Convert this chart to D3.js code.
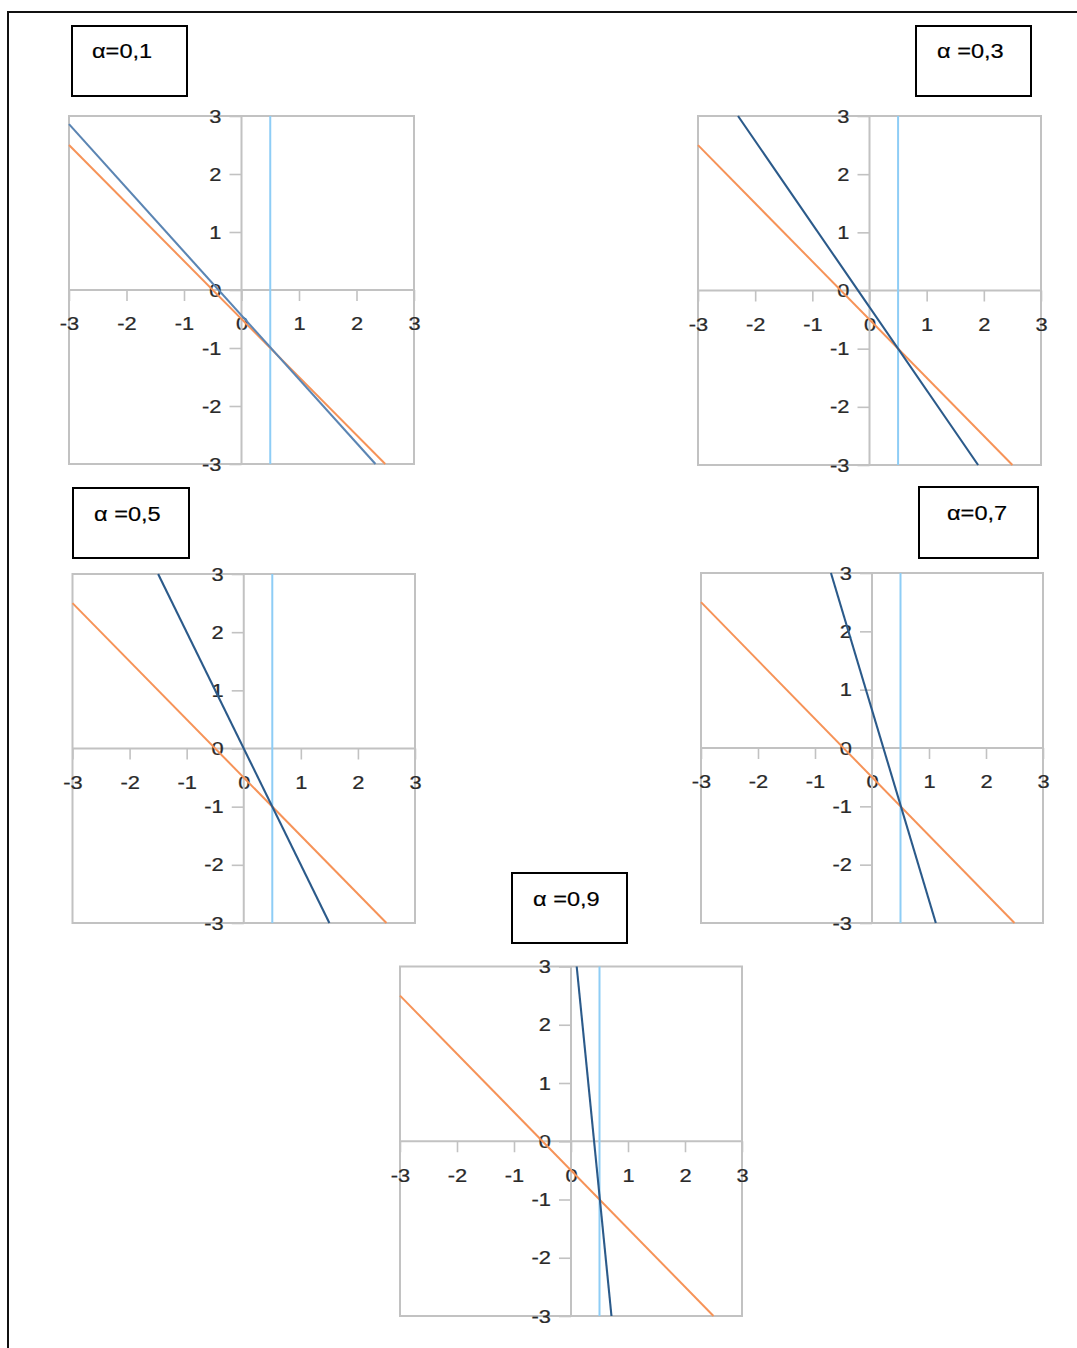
<!DOCTYPE html>
<html>
<head>
<meta charset="utf-8">
<script src="https://cdn.jsdelivr.net/npm/d3@7"></script>
<style>
  html, body { margin: 0; padding: 0; background: #fff; }
  svg { display: block; }
  text { font-family: "Liberation Sans", Arial, sans-serif; }
</style>
</head>
<body>
<svg id="chart" width="1077" height="1348"></svg>
<script>
// ---- data ----------------------------------------------------------------
const titles = ["α=0,1", "α =0,3", "α =0,5", "α=0,7", "α =0,9"];
const xTicks = [-3, -2, -1, 0, 1, 2, 3];
const yTicks = [-3, -2, -1, 0, 1, 2, 3];
const domain = [-3, 3];

// orange reference line, identical in every panel
const orangeLine = [[-3, 2.5], [2.5, -3]];
// light-blue vertical guide
const guideLine = [[0.5, -3], [0.5, 3]];
// dark-blue line, one per α, crossing the orange line at (0.5, -1)
const blueLines = [
  [[-3, 2.86], [2.33, -3]],
  [[-2.3, 3], [1.9, -3]],
  [[-1.5, 3], [1.5, -3]],
  [[-0.72, 3], [1.12, -3]],
  [[0.1, 3], [0.71, -3]]
];

// ---- layout --------------------------------------------------------------
// plot: [left, top, right, bottom]; box: [left, top, right, bottom]
const layout = [
  { plot: [69, 116, 414, 464],    box: [72, 26, 187, 96],    textX: 92,  baseline: 58 },
  { plot: [698, 116, 1041, 465],  box: [916, 26, 1031, 96],  textX: 937, baseline: 58 },
  { plot: [72.5, 574, 415, 923],  box: [73, 488, 189, 558],  textX: 94,  baseline: 521 },
  { plot: [701, 573, 1043, 923],  box: [919, 487, 1038, 558], textX: 947, baseline: 520 },
  { plot: [400, 966.5, 742, 1316], box: [512, 873, 627, 943], textX: 533, baseline: 906 }
];
const blueColors = ["#5b85b3", "#2b5a8a", "#2b5a8a", "#2b5a8a", "#2b5a8a"];
const grey = "#c2c2c2";
const textScale = 1.15;

const svg = d3.select("#chart");

// outer frame running off the page on the right and bottom
svg.append("rect")
  .attr("x", 8).attr("y", 12)
  .attr("width", 1200).attr("height", 1400)
  .attr("fill", "none").attr("stroke", "#111").attr("stroke-width", 2);

layout.forEach((L, i) => {
  const [pl, pt, pr, pb] = L.plot;
  const x = d3.scaleLinear().domain(domain).range([pl, pr]);
  const y = d3.scaleLinear().domain(domain).range([pb, pt]);
  const g = svg.append("g");

  // title box
  const [bl, bt, br, bb] = L.box;
  g.append("rect")
    .attr("x", bl).attr("y", bt)
    .attr("width", br - bl).attr("height", bb - bt)
    .attr("fill", "#fff").attr("stroke", "#000").attr("stroke-width", 2);
  g.append("text")
    .attr("transform", `translate(${L.textX},${L.baseline}) scale(${textScale},1)`)
    .attr("font-size", 20.5).attr("fill", "#000")
    .attr("stroke", "#000").attr("stroke-width", 0.2)
    .text(titles[i]);

  // plot frame
  g.append("rect")
    .attr("x", pl).attr("y", pt)
    .attr("width", pr - pl).attr("height", pb - pt)
    .attr("fill", "#fff").attr("stroke", grey).attr("stroke-width", 2);

  // x axis through y = 0
  const xAxis = d3.axisBottom(x)
    .tickValues(xTicks)
    .tickSize(11)
    .tickSizeOuter(0)
    .tickPadding(16)
    .tickFormat(d => String(d));
  const gx = g.append("g")
    .attr("transform", `translate(0,${y(0)})`)
    .call(xAxis);

  // y axis through x = 0
  const yAxis = d3.axisLeft(y)
    .tickValues(yTicks)
    .tickSize(12)
    .tickSizeOuter(0)
    .tickPadding(8)
    .tickFormat(d => String(d));
  const gy = g.append("g")
    .attr("transform", `translate(${x(0)},0)`)
    .call(yAxis);

  [gx, gy].forEach(ax => {
    ax.attr("font-family", null).attr("font-size", null);
    ax.select(".domain").attr("stroke", grey).attr("stroke-width", 2);
    ax.selectAll(".tick line").attr("stroke", grey).attr("stroke-width", 1.6);
    ax.selectAll(".tick text")
      .attr("fill", "#2a2a2a")
      .attr("stroke", "#2a2a2a").attr("stroke-width", 0.25)
      .attr("font-size", 19)
      .each(function () {
        const t = d3.select(this);
        const ox = +t.attr("x") || 0;
        t.attr("x", ox / textScale).attr("transform", `scale(${textScale},1)`);
      });
  });
  // the domain path for the x axis spans the full width; for y the full height
  gx.select(".domain").attr("d", `M${pl},0H${pr}`);
  gy.select(".domain").attr("d", `M0,${pb}V${pt}`);

  const line = d3.line().x(d => x(d[0])).y(d => y(d[1]));

  g.append("path").datum(guideLine)
    .attr("d", line).attr("fill", "none")
    .attr("stroke", "#8ecdf6").attr("stroke-width", 2);
  g.append("path").datum(orangeLine)
    .attr("d", line).attr("fill", "none")
    .attr("stroke", "#f69358").attr("stroke-width", 2);
  g.append("path").datum(blueLines[i])
    .attr("d", line).attr("fill", "none")
    .attr("stroke", blueColors[i]).attr("stroke-width", 2.1);
});
</script>
</body>
</html>
